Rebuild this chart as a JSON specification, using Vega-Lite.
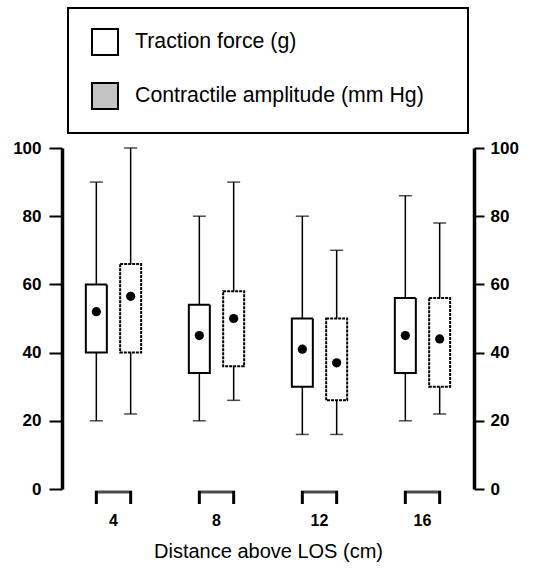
{
  "$schema": "https://vega.github.io/schema/vega-lite/v6.json",
  "width": 412,
  "height": 341,
  "autosize": "none",
  "padding": {"left": 62, "top": 148, "right": 60, "bottom": 79},
  "background": "white",
  "config": {
    "view": {"stroke": null},
    "font": "Liberation Sans",
    "axis": {"labelColor": "black", "titleColor": "black", "domainColor": "black", "tickColor": "black", "grid": false}
  },
  "data": {
    "values": [
      {"distance": "4", "series": "Traction force (g)", "min": 20, "q1": 40, "q3": 60, "max": 90, "mean": 52},
      {"distance": "4", "series": "Contractile amplitude (mm Hg)", "min": 22, "q1": 40, "q3": 66, "max": 100, "mean": 56.5},
      {"distance": "8", "series": "Traction force (g)", "min": 20, "q1": 34, "q3": 54, "max": 80, "mean": 45},
      {"distance": "8", "series": "Contractile amplitude (mm Hg)", "min": 26, "q1": 36, "q3": 58, "max": 90, "mean": 50},
      {"distance": "12", "series": "Traction force (g)", "min": 16, "q1": 30, "q3": 50, "max": 80, "mean": 41},
      {"distance": "12", "series": "Contractile amplitude (mm Hg)", "min": 16, "q1": 26, "q3": 50, "max": 70, "mean": 37},
      {"distance": "16", "series": "Traction force (g)", "min": 20, "q1": 34, "q3": 56, "max": 86, "mean": 45},
      {"distance": "16", "series": "Contractile amplitude (mm Hg)", "min": 22, "q1": 30, "q3": 56, "max": 78, "mean": 44}
    ]
  },
  "encoding": {
    "x": {
      "field": "distance",
      "type": "ordinal",
      "sort": ["4", "8", "12", "16"],
      "scale": {"paddingInner": 0, "paddingOuter": 0},
      "title": "Distance above LOS (cm)",
      "axis": {
        "domain": false,
        "ticks": false,
        "labelAngle": 0,
        "labelFontSize": 16,
        "labelFontWeight": "bold",
        "labelPadding": 23,
        "titleFontSize": 20,
        "titleFontWeight": "normal",
        "titlePadding": 13
      }
    }
  },
  "layer": [
    {
      "mark": {"type": "rule", "color": "black", "strokeWidth": 1.5},
      "encoding": {
        "xOffset": {"field": "series", "type": "nominal", "sort": ["Traction force (g)", "Contractile amplitude (mm Hg)"], "scale": {"paddingInner": 0, "paddingOuter": 0.5}},
        "y": {
          "field": "min",
          "type": "quantitative",
          "scale": {"domain": [0, 100], "nice": false},
          "axis": {
            "orient": "left",
            "values": [0, 20, 40, 60, 80, 100],
            "title": null,
            "domainWidth": 3.5,
            "tickWidth": 2,
            "tickSize": 13,
            "labelFontSize": 17,
            "labelFontWeight": "bold",
            "labelPadding": 8
          }
        },
        "y2": {"field": "max"}
      }
    },
    {
      "mark": {"type": "tick", "color": "black", "size": 13, "thickness": 1.5},
      "encoding": {
        "xOffset": {"field": "series", "type": "nominal", "sort": ["Traction force (g)", "Contractile amplitude (mm Hg)"]},
        "y": {"field": "min", "type": "quantitative", "axis": null}
      }
    },
    {
      "mark": {"type": "tick", "color": "black", "size": 13, "thickness": 1.5},
      "encoding": {
        "xOffset": {"field": "series", "type": "nominal", "sort": ["Traction force (g)", "Contractile amplitude (mm Hg)"]},
        "y": {"field": "max", "type": "quantitative", "axis": null}
      }
    },
    {
      "mark": {"type": "bar", "width": 21, "stroke": "black", "strokeWidth": 2, "fill": "white"},
      "encoding": {
        "xOffset": {"field": "series", "type": "nominal", "sort": ["Traction force (g)", "Contractile amplitude (mm Hg)"]},
        "y": {"field": "q1", "type": "quantitative", "axis": null},
        "y2": {"field": "q3"},
        "strokeDash": {
          "field": "series",
          "type": "nominal",
          "sort": ["Traction force (g)", "Contractile amplitude (mm Hg)"],
          "scale": {"range": [[1, 0], [3, 1]]},
          "legend": null
        }
      }
    },
    {
      "transform": [{"filter": "false"}],
      "mark": {"type": "square", "opacity": 1, "filled": true, "stroke": "black", "strokeWidth": 2},
      "encoding": {
        "y": {"field": "mean", "type": "quantitative", "axis": null},
        "fill": {
          "field": "series",
          "type": "nominal",
          "scale": {"domain": ["Traction force (g)", "Contractile amplitude (mm Hg)"], "range": ["white", "#c4c4c4"]},
          "legend": {
            "title": null,
            "orient": "none",
            "legendX": 6,
            "legendY": -140,
            "direction": "vertical",
            "padding": 20,
            "strokeColor": "black",
            "symbolType": "square",
            "symbolSize": 676,
            "symbolOffset": 3,
            "symbolStrokeColor": "black",
            "symbolStrokeWidth": 2,
            "symbolOpacity": 1,
            "labelFont": "Liberation Sans",
            "labelFontSize": 21.3,
            "labelColor": "black",
            "labelOffset": 16,
            "labelLimit": 450,
            "rowPadding": 20,
            "labelExpr": "datum.label + '\u00a0\u00a0\u00a0\u00a0\u200b'",
            "encode": {
              "legend": {"update": {"strokeWidth": {"value": 2}}}
            }
          }
        }
      }
    },
    {
      "mark": {"type": "point", "filled": true, "color": "black", "size": 85, "opacity": 1},
      "encoding": {
        "xOffset": {"field": "series", "type": "nominal", "sort": ["Traction force (g)", "Contractile amplitude (mm Hg)"]},
        "y": {
          "field": "mean",
          "type": "quantitative",
          "axis": {
            "orient": "right",
            "values": [0, 20, 40, 60, 80, 100],
            "title": null,
            "domainWidth": 3.5,
            "tickWidth": 2,
            "tickSize": 10,
            "labelFontSize": 17,
            "labelFontWeight": "bold",
            "labelPadding": 6
          }
        }
      }
    },
    {
      "transform": [{"filter": "datum.series === 'Traction force (g)'"}],
      "mark": {"type": "tick", "color": "black", "size": 37, "thickness": 3, "yOffset": 3},
      "encoding": {
        "y": {"datum": 0, "type": "quantitative", "axis": null}
      }
    },
    {
      "mark": {"type": "rule", "color": "black", "strokeWidth": 3, "yOffset": 2, "y2Offset": 15},
      "encoding": {
        "xOffset": {"field": "series", "type": "nominal", "sort": ["Traction force (g)", "Contractile amplitude (mm Hg)"]},
        "y": {"datum": 0, "type": "quantitative", "axis": null},
        "y2": {"datum": 0}
      }
    }
  ],
  "resolve": {"axis": {"y": "independent"}}
}
